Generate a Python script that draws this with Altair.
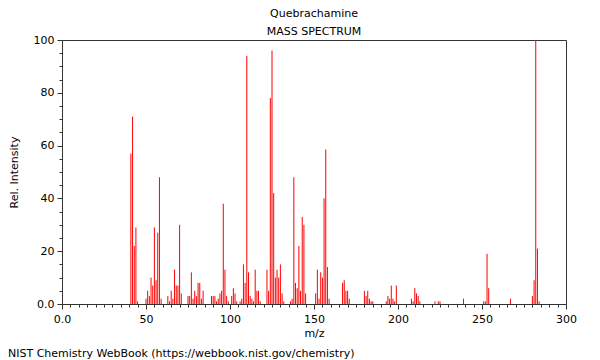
import altair as alt
import pandas as pd

# m/z values and relative intensities
mz = [41, 42, 43, 44, 45,
      50, 51, 52, 53, 54, 55, 56, 57, 58, 59,
      63, 64, 65, 66, 67, 68, 69, 70, 71,
      75, 76, 77, 78, 79, 80, 81, 82, 83, 84,
      89, 90, 91, 92, 93, 94, 95, 96, 97, 98, 99,
      101, 102, 103, 104, 106, 107, 108, 109, 110, 111, 112, 113, 114, 115, 116, 117, 118,
      122, 123, 124, 125, 126, 127, 128, 129, 130, 131, 132,
      136, 137, 138, 139, 140, 141, 142, 143, 144, 145,
      151, 152, 153, 154, 155, 156, 157, 158, 159,
      167, 168, 169, 170, 171,
      180, 181, 182, 183, 184, 185,
      193, 194, 195, 196, 197, 198, 199,
      208, 209, 210, 211, 212, 213,
      222, 224, 225,
      239, 251, 252, 253, 254, 267,
      280, 281, 282, 283, 284]
intensity = [57, 71, 22, 29, 1,
             2, 5, 3, 10, 7, 29, 9, 27, 48, 2,
             3, 1, 5, 2, 13, 7, 7, 30, 4,
             3, 3, 12, 2, 5, 3, 8, 8, 2, 5,
             3, 3, 3, 1, 2, 4, 5, 38, 13, 3, 1,
             3, 6, 4, 1, 1, 2, 15, 8, 94, 12, 3, 2, 1, 13, 5, 5, 1,
             13, 5, 78, 96, 42, 10, 13, 10, 15, 4, 1,
             1, 2, 48, 8, 6, 22, 5, 33, 30, 4,
             4, 13, 2, 12, 10, 40, 58.5, 14, 2,
             8, 9, 5, 5, 2,
             5, 3, 5, 2, 1, 1,
             1, 3, 2, 7, 2, 1, 7,
             2, 1, 6, 4, 3, 1,
             1, 1, 1,
             2, 1, 1, 19, 6, 2,
             3, 9, 100, 21, 1]

x_ticks = list(range(0, 301, 5))
y_ticks = list(range(0, 101, 5))

title_main = "Quebrachamine"
title_sub = "MASS SPECTRUM"
x_title = "m/z"
y_title = "Rel. Intensity"
footer_text = "NIST Chemistry WebBook (https://webbook.nist.gov/chemistry)"

FONT = "DejaVu Sans"
W, H = 504, 264
AXC = "#333333"

df = pd.DataFrame({"mz": mz, "intensity": intensity})

bars = alt.Chart(df).mark_rule(color="#ff0000", strokeWidth=1).encode(
    x=alt.X(
        "mz:Q",
        scale=alt.Scale(domain=[0, 300], nice=False, zero=False),
        axis=alt.Axis(
            title=x_title,
            values=x_ticks,
            labelExpr="datum.value == 0 ? '0.0' : (datum.value % 50 == 0 ? datum.label : '')",
            tickSize={"condition": {"test": "datum.value % 50 == 0", "value": 5}, "value": 3},
            labelFlush=False,
            labelOverlap=False,
            labelPadding=4,
            titleY=29,
            titleBaseline="middle",
            grid=False,
        ),
    ),
    y=alt.Y(
        "intensity:Q",
        scale=alt.Scale(domain=[0, 100], nice=False),
        axis=alt.Axis(
            title=y_title,
            values=y_ticks,
            labelExpr="datum.value == 0 ? '0.0' : (datum.value % 20 == 0 ? datum.label : '')",
            tickSize={"condition": {"test": "datum.value % 20 == 0", "value": 5}, "value": 3},
            labelOverlap=False,
            labelPadding=3,
            titleX=-43,
            titleY=H / 2,
            titleBaseline="bottom",
            grid=False,
        ),
    ),
    y2=alt.datum(0),
)

footer = alt.Chart(pd.DataFrame({"t": [footer_text]})).mark_text(
    align="left", baseline="alphabetic", font=FONT, fontSize=11, color="black"
).encode(
    x=alt.value(-54),
    y=alt.value(H + 53),
    text="t:N",
)

chart = alt.layer(bars, footer).properties(
    width=W,
    height=H,
    autosize=alt.AutoSizeParams(type="none"),
    padding={"left": 54, "top": 32, "right": 26, "bottom": 56},
    title=alt.TitleParams(
        text=title_main,
        subtitle=title_sub,
        font=FONT,
        subtitleFont=FONT,
        fontSize=11,
        subtitleFontSize=11,
        fontWeight="normal",
        color="black",
        subtitleColor="black",
        anchor="middle",
        offset=-3,
        subtitlePadding=7,
    ),
).configure_view(
    stroke=AXC, strokeWidth=1
).configure_axis(
    domainColor=AXC,
    tickColor=AXC,
    labelColor="black",
    titleColor="black",
    labelFont=FONT,
    titleFont=FONT,
    labelFontSize=11,
    titleFontSize=11,
    titleFontWeight="normal",
)

chart.save("out.html", embed_options={"renderer": "svg", "actions": False})
